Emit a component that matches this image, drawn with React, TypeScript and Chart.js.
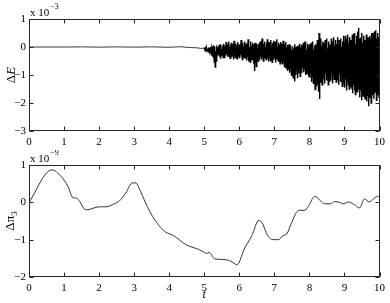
import React, { useEffect, useRef } from "react";
import { Chart, registerables } from "chart.js";

Chart.register(...registerables);

const FONT = '"Liberation Serif", "DejaVu Serif", serif';

// shared x ticks (t)
const xTicks = [0, 1, 2, 3, 4, 5, 6, 7, 8, 9, 10];
const topYTicks = [-3, -2, -1, 0, 1];
const bottomYTicks = [-2, -1, 0, 1];

// ΔE (x 10^-3): quiet part before t = 5
const calmT = [0, 1, 1.5, 2, 2.5, 3, 3.5, 4, 4.3, 4.6, 4.8, 4.9, 5];
const calmE = [0, 0, 0.005, -0.005, 0.005, -0.005, 0.005, -0.01, 0.01, -0.02, -0.03, -0.05, -0.04];

// ΔE (x 10^-3): noisy part, sampled every 0.0125 from t = 5
const noiseStartT = 5;
const noiseStepT = 0.0125;
const noisyE = [
  -0.04, -0.06, -0.03, -0.08, -0.05, -0.1, -0.04, -0.12, -0.06, -0.15, -0.02, -0.18, -0.05, -0.22, 0.0, -0.2,
  -0.08, -0.3, -0.02, -0.35, 0.05, -0.4, -0.1, -0.55, 0.02, -0.72, -0.15, -0.5, 0.05, -0.38, -0.05, -0.3,
  0.0, -0.28, 0.08, -0.35, -0.05, -0.42, 0.1, -0.25, -0.08, -0.3, 0.05, -0.38, 0.12, -0.22, -0.02, -0.4,
  0.05, -0.3, 0.18, -0.25, -0.05, -0.35, 0.1, -0.2, 0.2, -0.32, 0.0, -0.4, 0.08, -0.28, 0.15, -0.36,
  0.02, -0.3, 0.1, -0.45, 0.22, -0.28, -0.02, -0.38, 0.12, -0.25, 0.05, -0.42, 0.18, -0.3, 0.0, -0.35,
  0.1, -0.4, 0.05, -0.28, 0.25, -0.35, -0.05, -0.45, 0.15, -0.3, 0.02, -0.38, 0.2, -0.25, 0.08, -0.42,
  0.12, -0.48, 0.02, -0.35, 0.28, -0.52, 0.1, -0.4, -0.02, -0.55, 0.2, -0.38, 0.05, -0.45, 0.15, -0.35,
  0.1, -0.6, 0.0, -0.87, 0.15, -0.55, 0.05, -0.7, 0.12, -0.45, -0.05, -0.5, 0.1, -0.38, 0.18, -0.42,
  0.05, -0.35, 0.22, -0.45, 0.3, -0.3, -0.02, -0.5, 0.12, -0.38, 0.2, -0.28, 0.0, -0.45, 0.15, -0.35,
  0.28, -0.4, 0.05, -0.52, 0.18, -0.32, 0.1, -0.48, 0.25, -0.38, 0.02, -0.55, 0.15, -0.3, 0.22, -0.45,
  0.1, -0.4, 0.2, -0.55, 0.05, -0.45, 0.28, -0.35, 0.0, -0.5, 0.15, -0.42, 0.08, -0.6, 0.18, -0.48,
  0.12, -0.55, 0.0, -0.62, 0.22, -0.45, -0.05, -0.7, 0.1, -0.58, 0.18, -0.75, -0.02, -0.65, 0.08, -0.85,
  0.0, -0.8, 0.1, -0.92, -0.08, -0.75, 0.05, -1.0, -0.12, -0.85, 0.02, -1.1, -0.05, -0.9, 0.1, -1.23,
  -0.05, -1.0, 0.02, -0.85, -0.15, -1.12, 0.05, -0.95, -0.1, -0.8, 0.12, -1.05, -0.02, -0.9, 0.08, -0.82,
  0.0, -0.75, 0.15, -0.9, -0.08, -0.8, 0.2, -1.0, 0.05, -0.88, -0.1, -0.95, 0.12, -0.78, 0.0, -1.05,
  0.1, -1.1, -0.05, -0.95, 0.15, -1.25, 0.0, -1.05, 0.2, -1.3, -0.1, -1.15, 0.05, -1.52, 0.1, -1.2,
  0.0, -1.4, 0.25, -1.3, 0.1, -1.6, 0.5, -1.86, 0.15, -1.25, 0.3, -1.1, 0.05, -1.35, 0.2, -1.05,
  0.15, -1.15, 0.0, -1.3, 0.25, -0.95, 0.1, -1.2, 0.3, -1.0, -0.05, -1.35, 0.2, -1.1, 0.05, -1.25,
  0.1, -1.2, 0.3, -0.9, 0.0, -1.3, 0.2, -1.05, 0.35, -1.15, 0.05, -0.95, 0.25, -1.25, 0.1, -1.1,
  0.35, -1.15, 0.1, -1.35, 0.25, -0.95, 0.15, -1.25, 0.3, -1.05, 0.0, -1.4, 0.2, -1.1, 0.4, -1.2,
  0.2, -1.45, 0.4, -1.15, 0.1, -1.55, 0.3, -1.25, 0.45, -1.35, 0.15, -1.5, 0.35, -1.2, 0.25, -1.4,
  0.25, -1.45, 0.45, -1.65, 0.2, -1.35, 0.5, -1.55, 0.3, -1.7, 0.1, -1.4, 0.4, -1.6, 0.55, -1.5,
  0.68, -1.45, 0.3, -1.8, 0.2, -1.55, 0.35, -1.9, 0.5, -1.6, 0.15, -1.75, 0.4, -1.5, 0.25, -1.85,
  0.25, -1.65, 0.45, -1.95, 0.2, -1.75, 0.35, -2.12, 0.15, -1.8, 0.4, -1.6, 0.3, -2.0, 0.5, -1.7,
  0.5, -1.55, 0.4, -1.85, 0.55, -1.65, 0.4, -1.6, 0.6, -1.9, 0.3, -1.7, 0.5, -1.45, 0.35, -1.8,
  -0.4,
];

// Δπ3 (x 10^-9)
const piT = [
  0, 0.65, 0.92, 1.11, 1.25, 1.36, 1.45, 1.58, 1.65, 2.0, 2.2, 2.43, 2.57, 2.76, 2.95, 3.05,
  3.14, 3.33, 3.52, 3.71, 3.9, 4.0, 4.12, 4.28, 4.47, 4.65, 4.84, 5.0, 5.07, 5.14, 5.29, 5.5,
  5.69, 5.83, 5.93, 5.99, 6.14, 6.35, 6.56, 6.64, 6.81, 6.97, 7.11, 7.25, 7.35, 7.49, 7.63,
  7.72, 7.85, 7.98, 8.15, 8.22, 8.43, 8.6, 8.72, 8.86, 8.98, 9.11, 9.28, 9.43, 9.57, 9.71,
  9.8, 9.95, 10,
];
const piV = [
  0, 0.87, 0.69, 0.43, 0.13, 0.11, 0.02, -0.18, -0.2, -0.12, -0.12, -0.04, 0.03, 0.25, 0.52, 0.52,
  0.38, -0.02, -0.37, -0.62, -0.8, -0.84, -0.89, -1.0, -1.13, -1.2, -1.26, -1.34, -1.37, -1.34, -1.51, -1.53,
  -1.55, -1.62, -1.67, -1.62, -1.25, -0.91, -0.48, -0.53, -0.89, -1.0, -1.0, -0.89, -0.85, -0.55, -0.27,
  -0.21, -0.22, -0.09, 0.16, 0.13, -0.04, -0.04, 0.02, 0.0, -0.04, 0.01, -0.06, -0.15, 0.09, 0.01,
  0.07, 0.16, 0.13,
];

const fmt = (v: number) => (v < 0 ? "\u2212" + Math.abs(v) : String(v));

type Part = { text: string; italic?: boolean; sub?: boolean };

function framePlugin(opts: {
  xVals: number[];
  yVals: number[];
  yTitle: Part[];
  yTitleX: number;
  exponent: string;
  expBaseline: number;
  xTitle?: { text: string; y: number };
}) {
  return {
    id: "frame",
    afterDraw(chart: any) {
      const { ctx, chartArea } = chart;
      const { left, right, top, bottom } = chartArea;
      const xs = chart.scales.x;
      const ys = chart.scales.y;
      ctx.save();
      ctx.strokeStyle = "#262626";
      ctx.lineWidth = 1;
      const L = Math.round(left) + 0.5;
      const R = Math.round(right) - 0.5;
      const T = Math.round(top) + 0.5;
      const B = Math.round(bottom) - 0.5;
      ctx.strokeRect(L, T, R - L, B - T);
      ctx.beginPath();
      const tl = 4;
      for (const v of opts.xVals) {
        const px = Math.round(xs.getPixelForValue(v)) + 0.5;
        ctx.moveTo(px, B);
        ctx.lineTo(px, B - tl);
        ctx.moveTo(px, T);
        ctx.lineTo(px, T + tl);
      }
      for (const v of opts.yVals) {
        const py = Math.round(ys.getPixelForValue(v)) + 0.5;
        ctx.moveTo(L, py);
        ctx.lineTo(L + tl, py);
        ctx.moveTo(R, py);
        ctx.lineTo(R - tl, py);
      }
      ctx.stroke();

      // exponent label
      ctx.fillStyle = "#000";
      ctx.textBaseline = "alphabetic";
      ctx.textAlign = "left";
      ctx.font = `11px ${FONT}`;
      const base = "x 10";
      ctx.fillText(base, left + 1, opts.expBaseline);
      const w = ctx.measureText(base).width;
      ctx.font = `8px ${FONT}`;
      ctx.fillText(opts.exponent, left + 1 + w + 1, opts.expBaseline - 7);

      // y title
      ctx.save();
      ctx.translate(opts.yTitleX, (top + bottom) / 2);
      ctx.rotate(-Math.PI / 2);
      let total = 0;
      const fonts = opts.yTitle.map((p) =>
        p.sub ? `9px ${FONT}` : `${p.italic ? "italic " : ""}13px ${FONT}`
      );
      opts.yTitle.forEach((p, i) => {
        ctx.font = fonts[i];
        total += ctx.measureText(p.text).width;
      });
      let cx = -total / 2;
      ctx.textBaseline = "middle";
      opts.yTitle.forEach((p, i) => {
        ctx.font = fonts[i];
        ctx.fillText(p.text, cx, p.sub ? 4 : 0);
        cx += ctx.measureText(p.text).width;
      });
      ctx.restore();

      if (opts.xTitle) {
        ctx.font = `italic 12px ${FONT}`;
        ctx.textAlign = "center";
        ctx.textBaseline = "middle";
        ctx.fillText(opts.xTitle.text, (left + right) / 2, opts.xTitle.y);
      }
      ctx.restore();
    },
  };
}

function baseScales(yMin: number, yMax: number, xHeight: number) {
  return {
    x: {
      type: "linear" as const,
      min: 0,
      max: 10,
      afterBuildTicks: (s: any) => {
        s.ticks = xTicks.map((v) => ({ value: v }));
      },
      afterFit: (s: any) => {
        s.height = xHeight;
      },
      grid: { display: false, drawTicks: false },
      border: { display: false },
      ticks: {
        padding: 5,
        maxRotation: 0,
        autoSkip: false,
        color: "#000",
        font: { family: FONT, size: 11 },
        callback: (v: any) => fmt(Number(v)),
      },
    },
    y: {
      type: "linear" as const,
      min: yMin,
      max: yMax,
      afterFit: (s: any) => {
        s.width = 29;
      },
      grid: { display: false, drawTicks: false },
      border: { display: false },
      ticks: {
        stepSize: 1,
        padding: 3,
        autoSkip: false,
        color: "#000",
        font: { family: FONT, size: 11 },
        callback: (v: any) => fmt(Number(v)),
      },
    },
  };
}

function TopChart() {
  const ref = useRef<HTMLCanvasElement>(null);
  useEffect(() => {
    const calmPts = calmT.map((t, i) => ({ x: t, y: calmE[i] }));
    const noisyPts = noisyE.map((v, i) => ({ x: noiseStartT + i * noiseStepT, y: v }));
    const chart = new Chart(ref.current!, {
      type: "line",
      data: {
        datasets: [
          {
            data: calmPts,
            borderColor: "#222",
            borderWidth: 0.9,
            pointRadius: 0,
            tension: 0,
            fill: false,
          },
          {
            data: noisyPts,
            borderColor: "#000",
            borderWidth: 1.4,
            pointRadius: 0,
            tension: 0,
            fill: false,
          },
        ],
      },
      options: {
        responsive: false,
        animation: false,
        devicePixelRatio: 1,
        layout: { padding: { top: 19, right: 8, left: 0, bottom: 0 } },
        plugins: { legend: { display: false }, tooltip: { enabled: false } },
        scales: baseScales(-3, 1, 19),
      },
      plugins: [
        framePlugin({
          xVals: xTicks,
          yVals: topYTicks,
          yTitle: [{ text: "Δ" }, { text: "E", italic: true }],
          yTitleX: 12,
          exponent: "\u22123",
          expBaseline: 16,
        }),
      ],
    } as any);
    return () => chart.destroy();
  }, []);
  return <canvas ref={ref} width={390} height={150} style={{ display: "block" }} />;
}

function BottomChart() {
  const ref = useRef<HTMLCanvasElement>(null);
  useEffect(() => {
    const pts = piT.map((t, i) => ({ x: t, y: piV[i] }));
    const chart = new Chart(ref.current!, {
      type: "line",
      data: {
        datasets: [
          {
            data: pts,
            borderColor: "#333",
            borderWidth: 1,
            pointRadius: 0,
            tension: 0.35,
            cubicInterpolationMode: "monotone",
            fill: false,
          },
        ],
      },
      options: {
        responsive: false,
        animation: false,
        devicePixelRatio: 1,
        layout: { padding: { top: 15, right: 8, left: 0, bottom: 0 } },
        plugins: { legend: { display: false }, tooltip: { enabled: false } },
        scales: baseScales(-2, 1, 26),
      },
      plugins: [
        framePlugin({
          xVals: xTicks,
          yVals: bottomYTicks,
          yTitle: [{ text: "Δπ" }, { text: "3", sub: true }],
          yTitleX: 11,
          exponent: "\u22129",
          expBaseline: 12,
          xTitle: { text: "t", y: 145 },
        }),
      ],
    } as any);
    return () => chart.destroy();
  }, []);
  return <canvas ref={ref} width={390} height={153} style={{ display: "block" }} />;
}

export default function App() {
  return (
    <div
      style={{
        position: "absolute",
        left: 0,
        top: 0,
        width: 390,
        height: 303,
        background: "#fff",
      }}
    >
      <TopChart />
      <BottomChart />
    </div>
  );
}
